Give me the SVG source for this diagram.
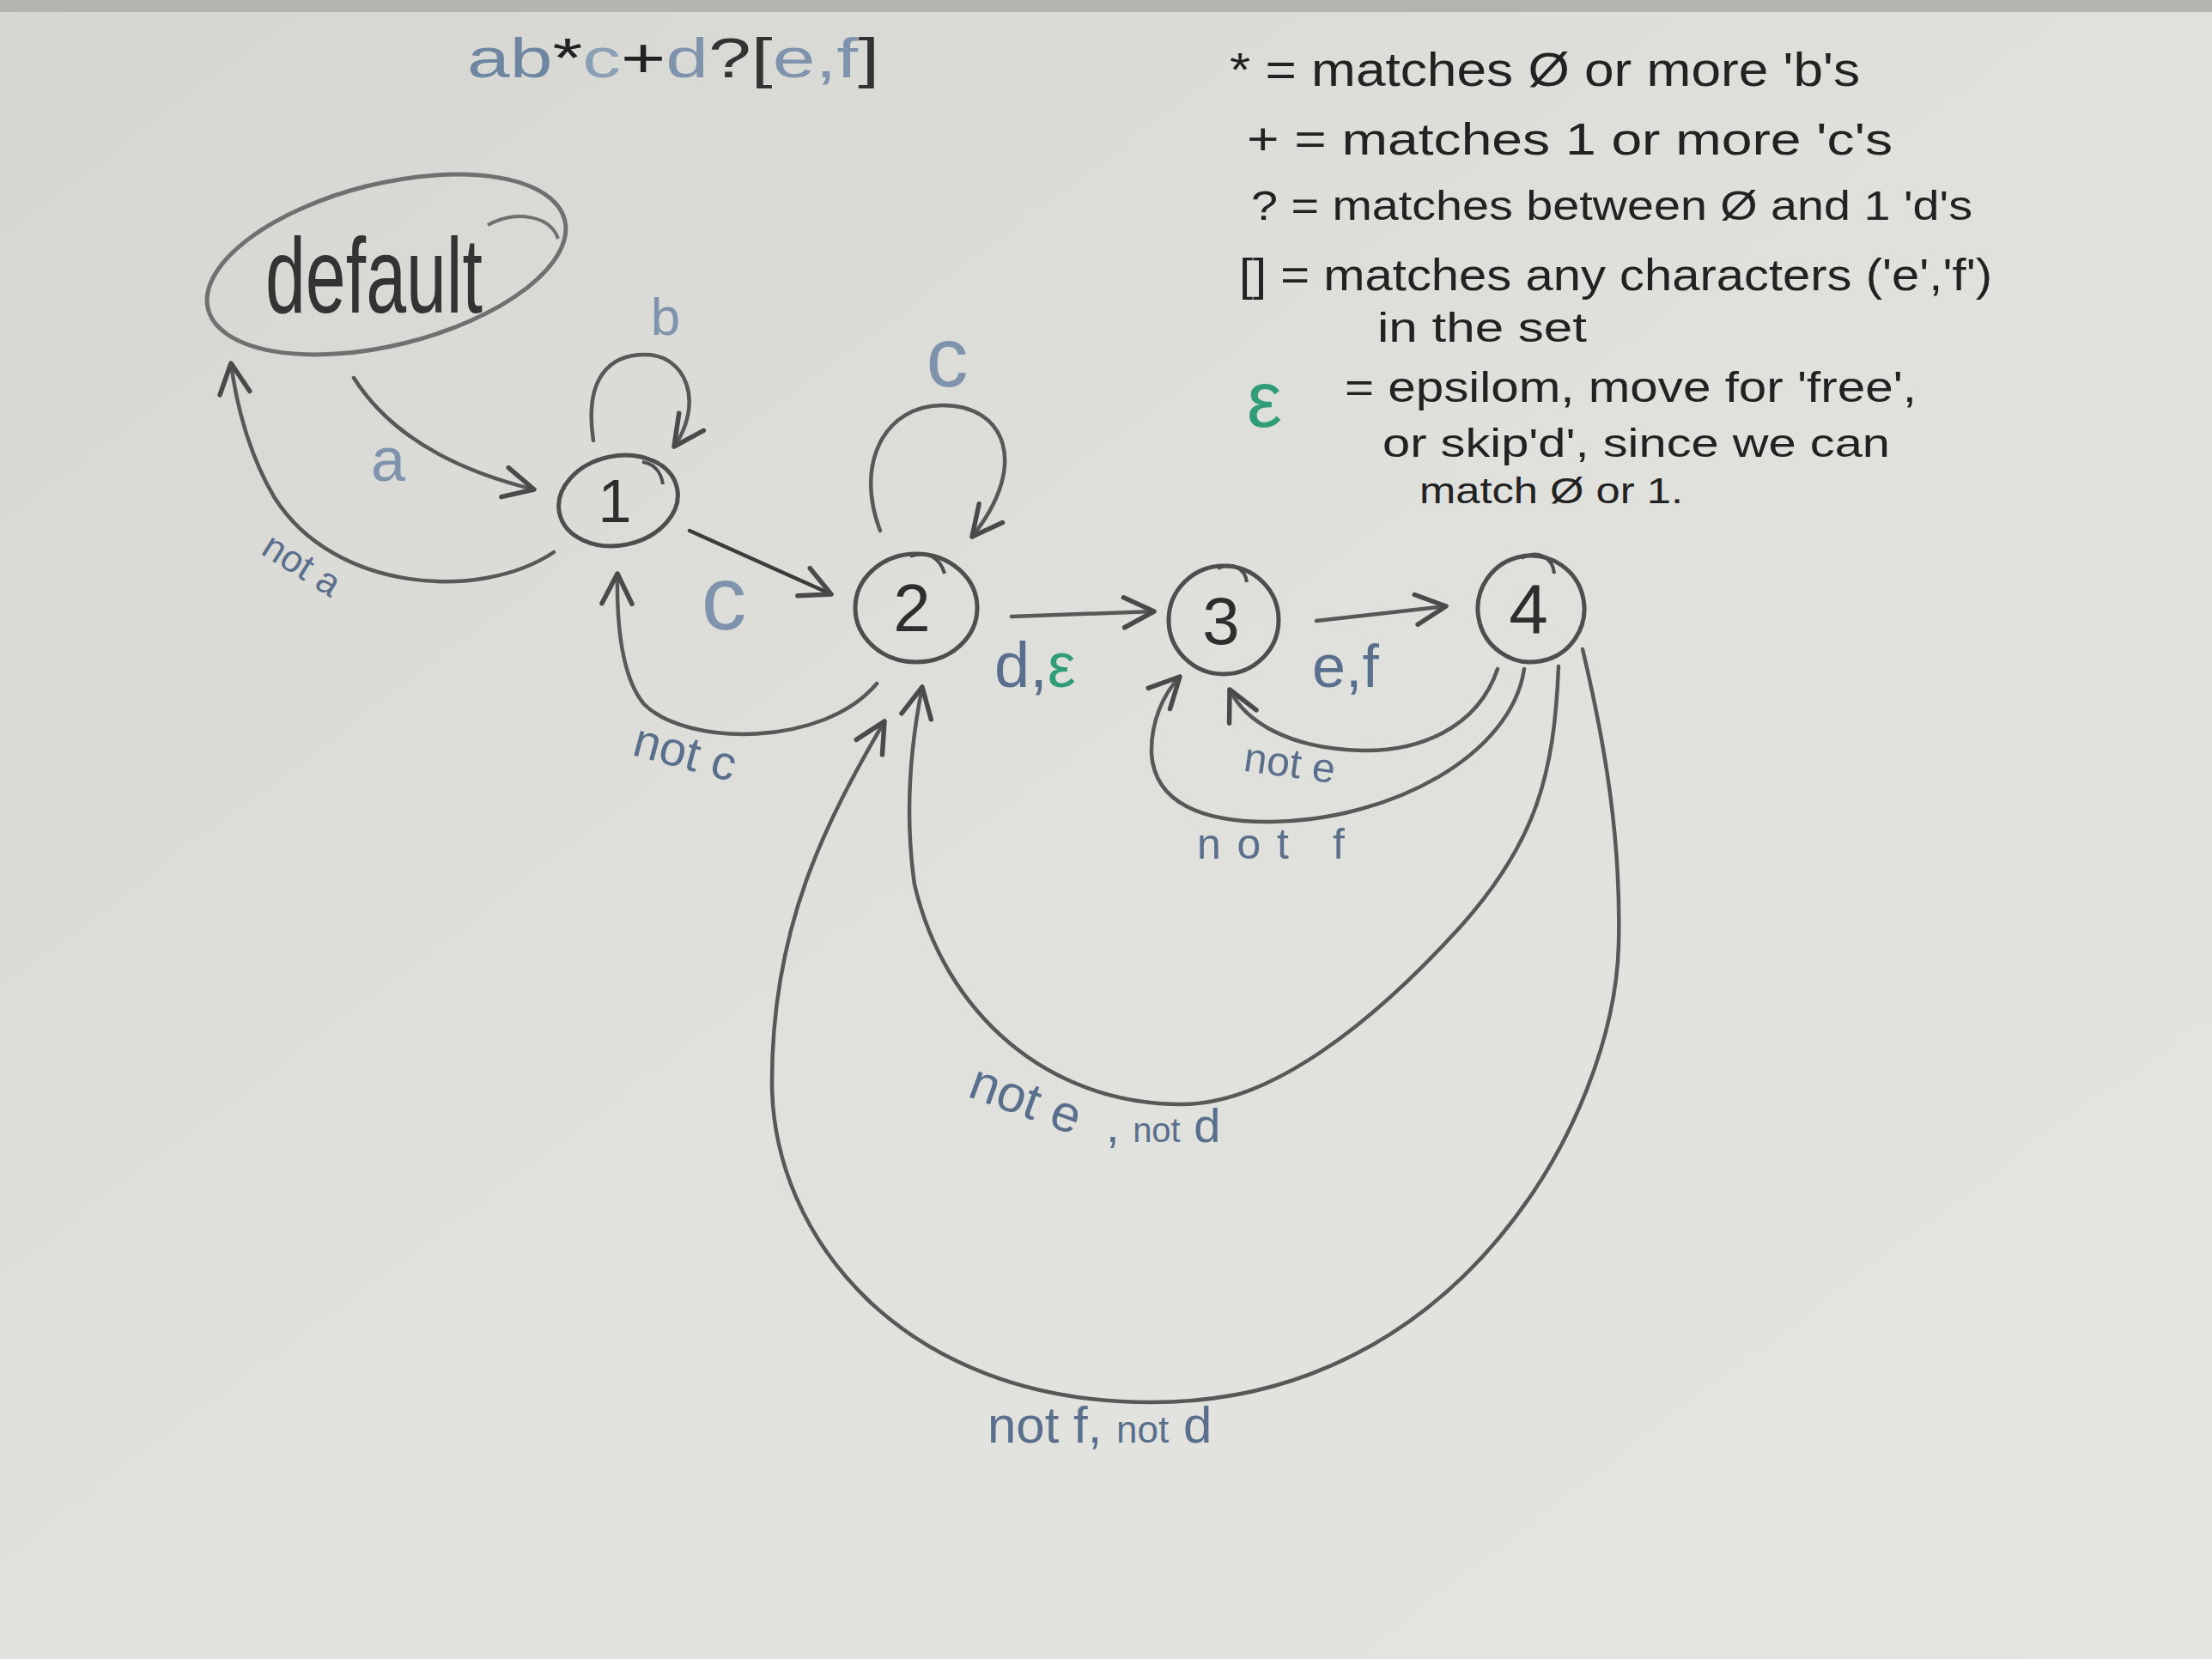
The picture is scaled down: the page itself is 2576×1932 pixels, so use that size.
<svg xmlns="http://www.w3.org/2000/svg" width="2576" height="1932" viewBox="0 0 2576 1932">
<defs>
<linearGradient id="bg" x1="0" y1="0" x2="1" y2="1">
<stop offset="0" stop-color="#d5d6d2"/>
<stop offset="0.5" stop-color="#e0e0dc"/>
<stop offset="1" stop-color="#e4e4e0"/>
</linearGradient>
<marker id="arr" markerUnits="userSpaceOnUse" markerWidth="50" markerHeight="50" viewBox="0 0 20 20" refX="18" refY="10" orient="auto">
<path d="M4,3 L18,10 L4,17" fill="none" stroke="#4a4a4a" stroke-width="2.2" stroke-linecap="round" stroke-linejoin="round"/>
</marker>
</defs>
<style>
.node{fill:none;stroke:#4e4e4e;stroke-width:5}
.edge{fill:none;stroke:#585858;stroke-width:4.5;stroke-linecap:round}
.num{font-family:"Liberation Sans",Arial,sans-serif;fill:#2e2e2e;text-anchor:middle}
.lbl{font-family:"Liberation Sans",Arial,sans-serif;fill:#5a6f8c}
.lt{fill:#7f94ac}
.leg{font-family:"Liberation Sans",Arial,sans-serif;fill:#222}
.eps{fill:#2f9e78}
</style>
<rect x="0" y="0" width="2576" height="1932" fill="url(#bg)"/>
<rect x="0" y="0" width="2576" height="14" fill="#b4b5b1"/>

<text id="title" x="544" y="90" font-family="Liberation Sans, Arial, sans-serif" font-size="64" textLength="480" lengthAdjust="spacingAndGlyphs"><tspan fill="#6f86a0">ab</tspan><tspan fill="#222">*</tspan><tspan fill="#8aa0b5">c</tspan><tspan fill="#222">+</tspan><tspan fill="#7f94ac">d</tspan><tspan fill="#333">?[</tspan><tspan fill="#7f94ac">e,f</tspan><tspan fill="#333">]</tspan></text>

<g id="legend">
<text class="leg" x="1432" y="100" font-size="56" textLength="734" lengthAdjust="spacingAndGlyphs">* = matches Ø or more 'b's</text>
<text class="leg" x="1452" y="180" font-size="52" textLength="752" lengthAdjust="spacingAndGlyphs">+ = matches 1 or more 'c's</text>
<text class="leg" x="1457" y="256" font-size="48" textLength="840" lengthAdjust="spacingAndGlyphs">? = matches between Ø and 1 'd's</text>
<text class="leg" x="1443" y="338" font-size="52" textLength="877" lengthAdjust="spacingAndGlyphs">[] = matches any characters ('e','f')</text>
<text class="leg" x="1604" y="398" font-size="48" textLength="244" lengthAdjust="spacingAndGlyphs">in the set</text>
<text class="leg eps" x="1452" y="497" font-size="92">ε</text>
<text class="leg" x="1566" y="468" font-size="50" textLength="666" lengthAdjust="spacingAndGlyphs">= epsilom, move for 'free',</text>
<text class="leg" x="1610" y="532" font-size="46" textLength="591" lengthAdjust="spacingAndGlyphs">or skip'd', since we can</text>
<text class="leg" x="1653" y="586" font-size="42" textLength="307" lengthAdjust="spacingAndGlyphs">match Ø or 1.</text>
</g>

<g id="node-default">
<ellipse cx="450" cy="308" rx="214" ry="94" transform="rotate(-14 450 308)" fill="none" stroke="#707070" stroke-width="5"/>
<path d="M568,262 C600,245 640,250 650,278" fill="none" stroke="#707070" stroke-width="4"/>
<text x="309" y="364" font-family="Liberation Sans, Arial, sans-serif" font-size="125" fill="#333" textLength="253" lengthAdjust="spacingAndGlyphs">default</text>
</g>
<g id="node-1">
<ellipse class="node" cx="720" cy="583" rx="70" ry="52" transform="rotate(-12 720 583)"/>
<path d="M748,538 C762,540 770,550 772,564" fill="none" stroke="#4e4e4e" stroke-width="4"/>
<text class="num" x="716" y="608" font-size="70">1</text>
</g>
<g id="node-2">
<ellipse class="node" cx="1067" cy="708" rx="71" ry="63"/>
<path d="M1060,648 C1080,640 1095,650 1100,668" fill="none" stroke="#4e4e4e" stroke-width="4"/>
<text class="num" x="1062" y="735" font-size="78">2</text>
</g>
<g id="node-3">
<ellipse class="node" cx="1425" cy="722" rx="64" ry="63"/>
<path d="M1418,662 C1435,654 1450,662 1452,678" fill="none" stroke="#4e4e4e" stroke-width="4"/>
<text class="num" x="1422" y="750" font-size="78">3</text>
</g>
<g id="node-4">
<ellipse class="node" cx="1783" cy="709" rx="62" ry="62" transform="rotate(-10 1783 709)"/>
<path d="M1772,650 C1790,640 1808,648 1810,668" fill="none" stroke="#4e4e4e" stroke-width="4"/>
<text class="num" x="1780" y="738" font-size="82">4</text>
</g>

<g id="connectors">
<path class="edge" d="M412,440 C450,500 520,545 622,570" marker-end="url(#arr)"/>
<path class="edge" d="M645,643 C560,700 390,690 320,580 C290,530 275,470 269,423" marker-end="url(#arr)"/>
<path class="edge" d="M691,513 C680,440 710,413 751,413 C800,413 820,470 785,520" marker-end="url(#arr)"/>
<path class="edge" style="stroke:#3c3c3c" d="M803,618 L968,692" marker-end="url(#arr)"/>
<path class="edge" d="M1021,796 C960,870 800,870 750,820 C725,790 718,730 719,668" marker-end="url(#arr)"/>
<path class="edge" d="M1025,618 C995,540 1030,472 1098,472 C1170,472 1200,540 1132,625" marker-end="url(#arr)"/>
<path class="edge" d="M1178,718 L1344,712" marker-end="url(#arr)"/>
<path class="edge" d="M1533,723 L1684,706" marker-end="url(#arr)"/>
<path class="edge" d="M1744,779 C1720,850 1650,875 1587,874 C1500,872 1450,840 1432,803" marker-end="url(#arr)"/>
<path class="edge" d="M1775,779 C1760,880 1620,955 1481,957 C1400,958 1345,935 1341,878 C1340,840 1355,808 1374,788" marker-end="url(#arr)"/>
<path class="edge" d="M1815,776 C1810,900 1790,980 1700,1080 C1600,1190 1480,1286 1376,1286 C1220,1286 1100,1180 1065,1030 C1055,960 1058,880 1074,800" marker-end="url(#arr)"/>
<path class="edge" d="M1843,756 C1870,870 1888,980 1885,1100 C1880,1300 1700,1633 1341,1633 C1050,1633 899,1440 899,1260 C899,1080 960,960 1030,840" marker-end="url(#arr)"/>
</g>

<g id="labels">
<text class="lbl lt" x="775" y="390" font-size="62" text-anchor="middle">b</text>
<text class="lbl lt" x="452" y="560" font-size="72" text-anchor="middle">a</text>
<text class="lbl" x="350" y="672" font-size="44" text-anchor="middle" transform="rotate(32 350 660)">not  a</text>
<text class="lbl lt" x="1103" y="450" font-size="98" text-anchor="middle">c</text>
<text class="lbl lt" x="843" y="733" font-size="105" text-anchor="middle">c</text>
<text class="lbl" x="797" y="895" font-size="56" text-anchor="middle" transform="rotate(15 797 880)">not c</text>
<text class="lbl" x="1158" y="800" font-size="74"><tspan>d,</tspan><tspan class="eps">ε</tspan></text>
<text class="lbl" x="1528" y="800" font-size="70">e,f</text>
<text class="lbl" x="1502" y="905" font-size="48" text-anchor="middle" transform="rotate(8 1502 890)">not e</text>
<text class="lbl" x="1394" y="1000" font-size="50" textLength="172" lengthAdjust="spacing">not f</text>
<text class="lbl" x="1193" y="1300" font-size="60" text-anchor="middle" transform="rotate(20 1193 1285)">not e</text>
<text class="lbl" x="1288" y="1330" font-size="56">, <tspan font-size="40">not</tspan> d</text>
<text class="lbl" x="1150" y="1680" font-size="60">not f, <tspan font-size="44">not</tspan> d</text>
</g>
</svg>
